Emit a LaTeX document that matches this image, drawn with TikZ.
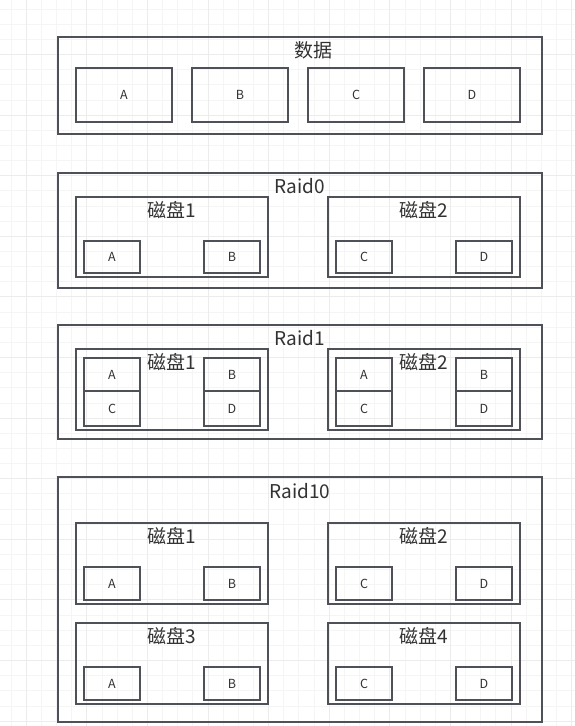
\documentclass[tikz,border=0pt]{standalone}
\usepackage{fontspec}
\setmainfont{Noto Sans CJK SC}
\definecolor{linegray}{RGB}{78,82,88}
\definecolor{textgray}{RGB}{50,50,50}
\definecolor{gridminor}{RGB}{245,245,245}
\definecolor{gridmajor}{RGB}{236,236,236}

\begin{document}
\begin{tikzpicture}[x=1pt,y=-1pt,
  frame/.style={draw=linegray, line width=1.3pt, inner sep=0, outer sep=0},
  block/.style={frame, minimum width=56, minimum height=32, text=textgray,
    font=\fontsize{12.5}{14}\selectfont},
  title/.style={inner sep=0, text=textgray, font=\fontsize{19}{21}\selectfont}]
  % Background grid
  \useasboundingbox[fill=white] (0,0) rectangle (575,726);
  \foreach \i in {0, 1, ..., 37} {
    \draw[gridminor, line width=0.8pt] ({11+15.15*\i},0) -- ({11+15.15*\i},726);
  }
  \foreach \i in {0, 1, ..., 47} {
    \draw[gridminor, line width=0.8pt] (0,{9+15.15*\i}) -- (575,{9+15.15*\i});
  }
  \foreach \i in {0, 1, ..., 9} \draw[gridmajor, line width=0.9pt] ({26.15+60.6*\i},0) -- ({26.15+60.6*\i},726);
  \foreach \i in {0, 1, ..., 11} \draw[gridmajor, line width=0.9pt] (0,{54.45+60.6*\i}) -- (575,{54.45+60.6*\i});

  % Data
  \node[frame, minimum width=484, minimum height=97] (data) at (300,85.5) {};
  \node[title] (dataTitle) at (313,50) {数据};
  \foreach \name/\x in {A/124, B/240, C/356, D/472}
    \node[block, minimum width=96, minimum height=54] (data\name) at (\x,95) {\name};

  % Raid0
  \node[frame, minimum width=484, minimum height=115] (raid0) at (300,230.5) {};
  \node[title] (raid0Title) at (300,186) {Raid0};
  \foreach \d/\x/\l/\r in {1/172/A/B, 2/424/C/D}{
    \node[frame, minimum width=192, minimum height=80] (r0disk\d) at (\x,237) {};
    \node[title] (r0disk\d Title) at (\x,210) {磁盘\d};
    \node[block] (r0disk\d\l) at (\x-60,257) {\l};
    \node[block] (r0disk\d\r) at (\x+60,257) {\r};
  }

  % Raid1
  \node[frame, minimum width=484, minimum height=114] (raid1) at (300,382) {};
  \node[title] (raid1Title) at (300,338) {Raid1};
  \foreach \d/\x in {1/172, 2/424}{
    \node[frame, minimum width=192, minimum height=81] (r1disk\d) at (\x,389.5) {};
    \node[block, minimum height=33] (r1disk\d A) at (\x-60,374.5) {A};
    \node[block, minimum height=33] (r1disk\d B) at (\x+60,374.5) {B};
    \node[block, minimum height=35] (r1disk\d C) at (\x-60,408.5) {C};
    \node[block, minimum height=35] (r1disk\d D) at (\x+60,408.5) {D};
    \node[title] (r1disk\d Title) at (\x,362) {磁盘\d};
  }

  % Raid10
  \node[frame, minimum width=484, minimum height=245] (raid10) at (300,599.5) {};
  \node[title] (raid10Title) at (300,491) {Raid10};
  \foreach \d/\x/\y/\l/\r in {1/172/563.5/A/B, 2/424/563.5/C/D, 3/172/663.5/A/B, 4/424/663.5/C/D}{
    \node[frame, minimum width=192, minimum height=81] (r10disk\d) at (\x,\y) {};
    \node[title] (r10disk\d Title) at (\x,\y-27) {磁盘\d};
    \node[block, minimum height=33] (r10disk\d\l) at (\x-60,\y+20) {\l};
    \node[block, minimum height=33] (r10disk\d\r) at (\x+60,\y+20) {\r};
  }
\end{tikzpicture}
\end{document}
